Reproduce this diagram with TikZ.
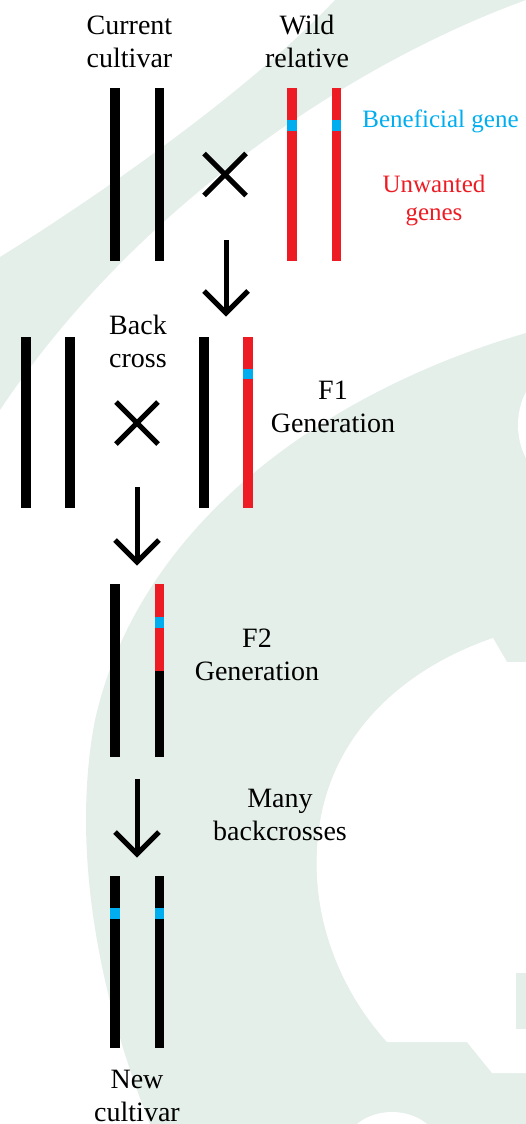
\documentclass[tikz,border=0pt]{standalone}
\usepackage{fontspec}
\setmainfont{Liberation Serif}
\usetikzlibrary{calc}
\definecolor{bggreen}{HTML}{E4EFE9}
\definecolor{chred}{HTML}{ED1C24}
\definecolor{chblue}{HTML}{00AEEF}
\begin{document}
\begin{tikzpicture}[x=1pt,y=-1pt,
  lbl/.style={font=\fontsize{28}{33}\selectfont, align=center, inner sep=0pt, anchor=base},
  keyblue/.style={font=\fontsize{25}{28}\selectfont, align=center, inner sep=0pt, anchor=base, text=chblue},
  keyred/.style={font=\fontsize{25}{28}\selectfont, align=center, inner sep=0pt, anchor=base, text=chred},
  arr/.style={line width=5pt, line join=miter},
  xmark/.style={line width=5pt},
  blk/.style={fill=black},
  rd/.style={fill=chred},
  bl/.style={fill=chblue}]
\useasboundingbox (0,0) rectangle (526,1124);
% background watermark
\fill[bggreen] (0,257) .. controls (100,195) and (250,90) .. (335,0) -- (526,0)
   .. controls (360,60) and (140,200) .. (0,410) -- cycle;
\fill[bggreen] (526,333) .. controls (330,390) and (140,520) .. (95,720)
   .. controls (70,850) and (100,1000) .. (150,1124) -- (526,1124) -- cycle;
\fill[white] (493,638) -- (507,662) -- (526,662) -- (526,1073) -- (492,1073) -- (467,1042) -- (387,1042)
   .. controls (340,990) and (313,920) .. (317,850) .. controls (322,740) and (400,670) .. (493,638) -- cycle;
\fill[white] (392,1150) ellipse [x radius=48, y radius=38];
\fill[white] (558,425) ellipse [x radius=40, y radius=55];
\fill[bggreen] (516,973) rectangle (526,1029);

% labels (anchor = baseline of last line)
\node[lbl] (tcur) at (129.5,67) {Current\\cultivar};
\node[lbl] (twild) at (307,67) {Wild\\relative};
\node[keyblue] (tben) at (440.5,127) {Beneficial gene};
\node[keyred] (tunw) at (434,220) {Unwanted\\genes};
\node[lbl] (tback) at (138,367) {Back\\cross};
\node[lbl] (tf1) at (333,432) {F1\\Generation};
\node[lbl] (tf2) at (257,680) {F2\\Generation};
\node[lbl] (tmany) at (280,840) {Many\\backcrosses};
\node[lbl] (tnew) at (137,1121) {New\\cultivar};

% row 1
\fill[blk] (110,88) rectangle (119.5,261);
\fill[blk] (154.5,88) rectangle (164,261);
\fill[rd] (287.2,88) rectangle (296.8,261);
\fill[rd] (331.7,88) rectangle (341.3,261);
\fill[bl] (287.2,120) rectangle (296.8,131);
\fill[bl] (331.7,120) rectangle (341.3,131);
% cross 1
\coordinate (x1) at (225,174.5);
\draw[xmark] ($(x1)+(-21,-21)$) -- ($(x1)+(21,21)$);
\draw[xmark] ($(x1)+(-21,21)$) -- ($(x1)+(21,-21)$);
% arrow 1
\coordinate (a1s) at (226,240);
\coordinate (a1e) at (226,313);
\draw[arr] (a1s) -- (a1e);
\draw[arr] ($(a1e)+(-22,-22)$) -- (a1e) -- ($(a1e)+(22,-22)$);

% row 2
\fill[blk] (21,337) rectangle (30.5,508);
\fill[blk] (65.3,337) rectangle (74.8,508);
\fill[blk] (199,337) rectangle (208.5,508);
\fill[rd] (243,337) rectangle (252.5,508);
\fill[bl] (243,369) rectangle (252.5,379);
% cross 2
\coordinate (x2) at (137,423);
\draw[xmark] ($(x2)+(-21,-21)$) -- ($(x2)+(21,21)$);
\draw[xmark] ($(x2)+(-21,21)$) -- ($(x2)+(21,-21)$);
% arrow 2
\coordinate (a2s) at (137,487);
\coordinate (a2e) at (137,562);
\draw[arr] (a2s) -- (a2e);
\draw[arr] ($(a2e)+(-22,-22)$) -- (a2e) -- ($(a2e)+(22,-22)$);

% row 3
\fill[blk] (110,584) rectangle (119.5,757);
\fill[rd] (154.5,584) rectangle (164,671);
\fill[bl] (154.5,617) rectangle (164,628);
\fill[blk] (154.5,671) rectangle (164,757);
% arrow 3
\coordinate (a3s) at (137,779);
\coordinate (a3e) at (137,854);
\draw[arr] (a3s) -- (a3e);
\draw[arr] ($(a3e)+(-22,-22)$) -- (a3e) -- ($(a3e)+(22,-22)$);

% row 4
\fill[blk] (110,876) rectangle (119.5,1048);
\fill[blk] (154.5,876) rectangle (164,1048);
\fill[bl] (110,908) rectangle (119.5,919);
\fill[bl] (154.5,908) rectangle (164,919);
\end{tikzpicture}
\end{document}
